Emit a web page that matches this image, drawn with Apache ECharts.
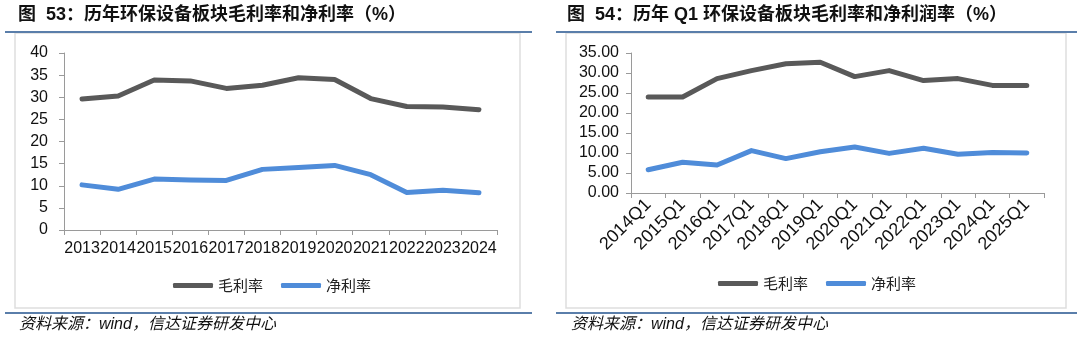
<!DOCTYPE html>
<html><head><meta charset="utf-8">
<script src="https://cdn.jsdelivr.net/npm/echarts@6/dist/echarts.min.js"></script>
<style>html,body{margin:0;padding:0;background:#fff;}#c{width:1082px;height:338px;}</style>
</head><body><div id="c"></div>
<script>
const yearsL = ['2013','2014','2015','2016','2017','2018','2019','2020','2021','2022','2023','2024'];
const grossL = [29.6,30.3,33.9,33.7,32.0,32.7,34.4,34.0,29.7,27.9,27.8,27.2];
const netL   = [10.2,9.2,11.5,11.3,11.2,13.7,14.1,14.6,12.5,8.5,9.0,8.4];
const quartersR = ['2014Q1','2015Q1','2016Q1','2017Q1','2018Q1','2019Q1','2020Q1','2021Q1','2022Q1','2023Q1','2024Q1','2025Q1'];
const grossR = [24.0,24.0,28.6,30.6,32.3,32.7,29.1,30.6,28.1,28.6,26.9,26.9];
const netR   = [5.8,7.7,7.0,10.6,8.6,10.3,11.5,9.9,11.2,9.7,10.1,10.0];
const seriesNames = ['毛利率','净利率'];
const titleL = '图  53：历年环保设备板块毛利率和净利率（%）';
const titleR = '图  54：历年 Q1 环保设备板块毛利率和净利润率（%）';
const source = '资料来源：wind，信达证券研发中心';

const GRAY = '#595959', BLUE = '#4f8cd9';
const FONT = '"Liberation Sans", Arial, "Noto Sans CJK SC", sans-serif';
const axisCol = '#9a9a9a';

function xAxis(idx, data, rotate, size) {
  return {
    type: 'category', gridIndex: idx, data: data, boundaryGap: true,
    axisLine: {lineStyle: {color: axisCol, width: 1}},
    axisTick: {show: true, length: 5, lineStyle: {color: axisCol}},
    axisLabel: {interval: 0, rotate: rotate, color: '#111', fontSize: size, fontFamily: FONT, margin: rotate ? 9 : 11}
  };
}
function yAxis(idx, max, dec, margin) {
  return {
    type: 'value', gridIndex: idx, min: 0, max: max, interval: 5,
    axisLine: {show: true, lineStyle: {color: axisCol, width: 1}},
    axisTick: {show: true, length: 5, lineStyle: {color: axisCol}},
    splitLine: {show: false},
    axisLabel: {color: '#111', fontSize: 16, fontFamily: FONT, margin: margin,
      formatter: v => v.toFixed(dec)}
  };
}
function line(name, data, idx, color) {
  return {name: name, type: 'line', xAxisIndex: idx, yAxisIndex: idx, data: data,
    symbol: 'none', smooth: false, lineStyle: {color: color, width: 5, cap: 'round', join: 'round'},
    itemStyle: {color: color}, animation: false};
}
function legend(left, top) {
  return {left: left, top: top, itemWidth: 40, itemHeight: 5, itemGap: 18, icon: 'roundRect',
    data: seriesNames, textStyle: {fontSize: 15, color: '#222', fontFamily: '"Noto Sans CJK SC", sans-serif'},
    selectedMode: false};
}
const hline = (x1, x2, y, c, w) => ({type: 'line', shape: {x1: x1, y1: y, x2: x2, y2: y}, style: {stroke: c, lineWidth: w}, silent: true});
const rect = (x, y, w, h) => ({type: 'rect', shape: {x: x, y: y, width: w, height: h}, style: {fill: 'none', stroke: '#dedede', lineWidth: 1.5}, silent: true});
const text = (x, y, t, opts) => ({type: 'text', x: x, y: y, style: Object.assign({text: t, fill: '#111', textVerticalAlign: 'middle'}, opts), silent: true});

const chart = echarts.init(document.getElementById('c'), null, {renderer: 'canvas'});
chart.setOption({
  animation: false,
  backgroundColor: '#fff',
  grid: [
    {left: 64, right: 1082 - 497, top: 53, bottom: 338 - 230},
    {left: 631, right: 1082 - 1044, top: 53, bottom: 338 - 193}
  ],
  xAxis: [xAxis(0, yearsL, 0, 16), xAxis(1, quartersR, 45, 18)],
  yAxis: [yAxis(0, 40, 0, 16), yAxis(1, 35, 2, 12)],
  legend: [legend(168, 273), legend(713, 271)],
  series: [
    line(seriesNames[0], grossL, 0, GRAY), line(seriesNames[1], netL, 0, BLUE),
    line(seriesNames[0], grossR, 1, GRAY), line(seriesNames[1], netR, 1, BLUE)
  ],
  graphic: [
    rect(15, 33, 505, 275), rect(566, 33, 500, 275),
    hline(5, 532, 32, '#5a7eaa', 2), hline(556, 1077, 32, '#5a7eaa', 2),
    hline(5, 532, 313, '#5a7eaa', 2), hline(556, 1077, 313, '#5a7eaa', 2),
    text(18, 15, titleL, {font: 'bold 18px ' + FONT}),
    text(567, 15, titleR, {font: 'bold 18px ' + FONT}),
    text(19, 325, source, {font: 'italic 16px ' + FONT}),
    text(571, 325, source, {font: 'italic 16px ' + FONT})
  ]
});
</script></body></html>
